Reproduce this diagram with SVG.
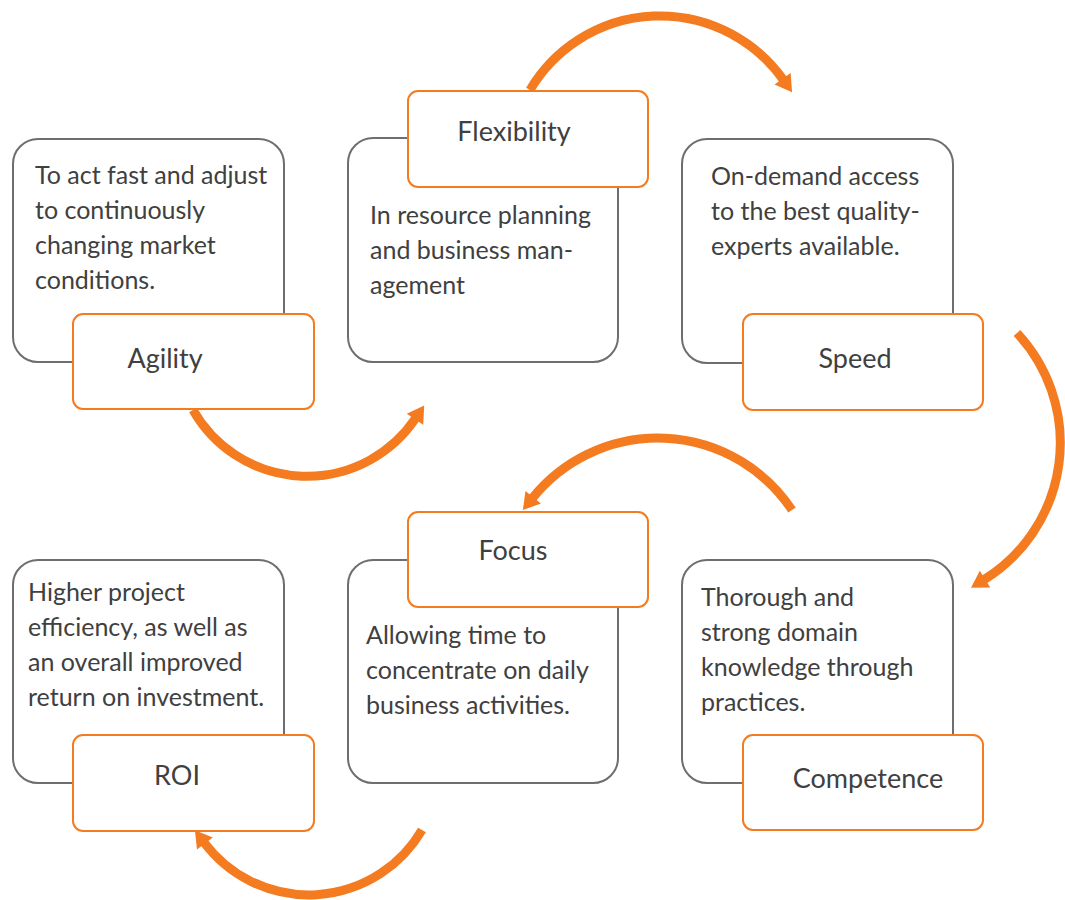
<svg xmlns="http://www.w3.org/2000/svg" width="1065" height="900" viewBox="0 0 1065 900">
<style>
.card{fill:#ffffff;stroke:#6e6e6e;stroke-width:2}
.tag{fill:#ffffff;stroke:#f47b20;stroke-width:2}
.t{font-family:Lato,"Liberation Sans",sans-serif;font-size:25px;fill:#404040}
.c{text-anchor:middle;font-size:27px}
.arc{fill:none;stroke:#f47b20;stroke-width:9}
</style>
<defs>
<marker id="ah" markerUnits="userSpaceOnUse" markerWidth="20" markerHeight="22" viewBox="0 -10 16 20" refX="1" refY="0" orient="auto">
<path d="M0,-9 L15,0 L0,9 z" fill="#f47b20"/>
</marker>
</defs>
<g id="connectors">
<path class="arc" marker-end="url(#ah)" d="M193,410 A131,131 0 0 0 415.6,418.3"/>
<path class="arc" marker-end="url(#ah)" d="M530,90 A151,151 0 0 1 783.2,79.7"/>
<path class="arc" marker-end="url(#ah)" d="M1017,333 A161,161 0 0 1 984.1,579.7"/>
<path class="arc" marker-end="url(#ah)" d="M792,510 A161,161 0 0 0 532.5,498.1"/>
<path class="arc" marker-end="url(#ah)" d="M422,830 A131,131 0 0 1 204.2,842.6"/>
</g>
<g id="agility">
<rect class="card" x="13" y="139" width="271" height="223" rx="25"/>
<text class="t" x="35" y="184">To act fast and adjust</text>
<text class="t" x="35" y="219">to continuously</text>
<text class="t" x="35" y="254">changing market</text>
<text class="t" x="35" y="289">conditions.</text>
<rect class="tag" x="73" y="314" width="241" height="95" rx="10"/>
<text class="t c" x="165" y="368">Agility</text>
</g>
<g id="flexibility">
<rect class="card" x="348" y="138" width="270" height="224" rx="25"/>
<text class="t" x="370" y="224">In resource planning</text>
<text class="t" x="370" y="259">and business man-</text>
<text class="t" x="370" y="294">agement</text>
<rect class="tag" x="408" y="91" width="240" height="96" rx="10"/>
<text class="t c" x="514" y="141">Flexibility</text>
</g>
<g id="speed">
<rect class="card" x="682" y="139" width="271" height="224" rx="25"/>
<text class="t" x="711" y="185">On-demand access</text>
<text class="t" x="711" y="220">to the best quality-</text>
<text class="t" x="711" y="255">experts available.</text>
<rect class="tag" x="743" y="314" width="240" height="96" rx="10"/>
<text class="t c" x="855" y="368">Speed</text>
</g>
<g id="roi">
<rect class="card" x="13" y="560" width="271" height="223" rx="25"/>
<text class="t" x="28" y="601">Higher project</text>
<text class="t" x="28" y="636">efficiency, as well as</text>
<text class="t" x="28" y="671">an overall improved</text>
<text class="t" x="28" y="706">return on investment.</text>
<rect class="tag" x="73" y="735" width="241" height="96" rx="10"/>
<text class="t c" x="177" y="785">ROI</text>
</g>
<g id="focus">
<rect class="card" x="348" y="560" width="270" height="223" rx="25"/>
<text class="t" x="366" y="644">Allowing time to</text>
<text class="t" x="366" y="679">concentrate on daily</text>
<text class="t" x="366" y="714">business activities.</text>
<rect class="tag" x="408" y="512" width="240" height="95" rx="10"/>
<text class="t c" x="513" y="560">Focus</text>
</g>
<g id="competence">
<rect class="card" x="682" y="560" width="271" height="223" rx="25"/>
<text class="t" x="701" y="606">Thorough and</text>
<text class="t" x="701" y="641">strong domain</text>
<text class="t" x="701" y="676">knowledge through</text>
<text class="t" x="701" y="711">practices.</text>
<rect class="tag" x="743" y="735" width="240" height="95" rx="10"/>
<text class="t c" x="868" y="788">Competence</text>
</g>
</svg>
